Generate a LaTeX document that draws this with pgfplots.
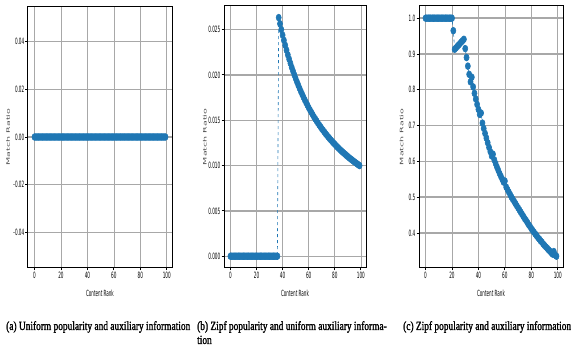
\documentclass[border=0pt]{standalone}
\usepackage{fontspec}
\setmainfont{Liberation Serif}
\newfontfamily\tickfont[FakeStretch=0.48]{DejaVu Sans}
\newfontfamily\ylabfont{DejaVu Sans}
\newfontfamily\capfont[FakeStretch=0.75,FakeBold=1.5]{Liberation Serif}
\usepackage{pgfplots}
\pgfplotsset{compat=1.18}
\definecolor{mplblue}{HTML}{1F77B4}
\definecolor{gridgray}{HTML}{A8A8A8}
\pgfplotsset{
  panel/.style={
    scale only axis,
    width=144pt, height=262pt,
    anchor=south west,
    xmin=-4.95, xmax=103.95,
    xtick={0,20,40,60,80,100},
    grid=major,
    major x grid style={gridgray, line width=0.7pt},
    major y grid style={gridgray, line width=1.4pt},
    axis line style={black, line width=1pt},
    tick align=outside,
    major tick length=2.5pt,
    tick style={black, line width=0.8pt},
    xtick pos=bottom, ytick pos=left,
    /pgf/number format/assume math mode=true,
    ticklabel style={font=\tickfont\fontsize{8.7}{10}\selectfont, inner sep=1pt},
    xlabel={\tickfont\fontsize{8.5}{9}\selectfont Content Rank},
    ylabel={\scalebox{1}[0.5]{\ylabfont\fontsize{9.5}{10}\selectfont Match Ratio}},
    xlabel style={at={(axis description cs:0.5,-0.095)}, anchor=center, inner sep=0pt},
    ylabel style={anchor=center, inner sep=0pt, text=black!70},
    scaled y ticks=false,
    clip=false,
  },
  ser/.style={mplblue, dashed, line width=0.6pt, mark=*, mark size=3.4pt,
    mark options={solid, fill=mplblue, draw=mplblue, xscale=0.75}},
}
\begin{document}
\begin{tikzpicture}
\path[use as bounding box] (0,0) rectangle (571pt,356pt);
% (a)
\begin{axis}[panel, at={(28pt,88pt)},
  ymin=-0.055, ymax=0.055,
  ytick={-0.04,-0.02,0,0.02,0.04},
  yticklabel style={/pgf/number format/fixed, /pgf/number format/fixed zerofill, /pgf/number format/precision=2},
  ylabel style={at={(axis description cs:-0.139,0.5)}}]
\addplot[ser] coordinates {
(0,0)(1,0)(2,0)(3,0)(4,0)(5,0)(6,0)(7,0)(8,0)(9,0)
(10,0)(11,0)(12,0)(13,0)(14,0)(15,0)(16,0)(17,0)(18,0)(19,0)
(20,0)(21,0)(22,0)(23,0)(24,0)(25,0)(26,0)(27,0)(28,0)(29,0)
(30,0)(31,0)(32,0)(33,0)(34,0)(35,0)(36,0)(37,0)(38,0)(39,0)
(40,0)(41,0)(42,0)(43,0)(44,0)(45,0)(46,0)(47,0)(48,0)(49,0)
(50,0)(51,0)(52,0)(53,0)(54,0)(55,0)(56,0)(57,0)(58,0)(59,0)
(60,0)(61,0)(62,0)(63,0)(64,0)(65,0)(66,0)(67,0)(68,0)(69,0)
(70,0)(71,0)(72,0)(73,0)(74,0)(75,0)(76,0)(77,0)(78,0)(79,0)
(80,0)(81,0)(82,0)(83,0)(84,0)(85,0)(86,0)(87,0)(88,0)(89,0)
(90,0)(91,0)(92,0)(93,0)(94,0)(95,0)(96,0)(97,0)(98,0)(99,0)
};
\end{axis}
% (b)
\begin{axis}[panel, at={(224pt,88pt)}, width=142pt,
  ymin=-0.0013, ymax=0.0276,
  ytick={0,0.005,0.01,0.015,0.02,0.025},
  yticklabel style={/pgf/number format/fixed, /pgf/number format/fixed zerofill, /pgf/number format/precision=3},
  ylabel style={at={(axis description cs:-0.134,0.5)}}]
\addplot[ser] coordinates {
(0,0)(1,0)(2,0)(3,0)(4,0)(5,0)(6,0)(7,0)(8,0)(9,0)
(10,0)(11,0)(12,0)(13,0)(14,0)(15,0)(16,0)(17,0)(18,0)(19,0)
(20,0)(21,0)(22,0)(23,0)(24,0)(25,0)(26,0)(27,0)(28,0)(29,0)
(30,0)(31,0)(32,0)(33,0)(34,0)(35,0)(36,0)
(37,0.02632)(38,0.02564)(39,0.02500)(40,0.02439)(41,0.02381)(42,0.02326)
(43,0.02273)(44,0.02222)(45,0.02174)(46,0.02128)(47,0.02083)(48,0.02041)
(49,0.02000)(50,0.01961)(51,0.01923)(52,0.01887)(53,0.01852)(54,0.01818)
(55,0.01786)(56,0.01754)(57,0.01724)(58,0.01695)(59,0.01667)(60,0.01639)
(61,0.01613)(62,0.01587)(63,0.01563)(64,0.01538)(65,0.01515)(66,0.01493)
(67,0.01471)(68,0.01449)(69,0.01429)(70,0.01408)(71,0.01389)(72,0.01370)
(73,0.01351)(74,0.01333)(75,0.01316)(76,0.01299)(77,0.01282)(78,0.01266)
(79,0.01250)(80,0.01235)(81,0.01220)(82,0.01205)(83,0.01190)(84,0.01176)
(85,0.01163)(86,0.01149)(87,0.01136)(88,0.01124)(89,0.01111)(90,0.01099)
(91,0.01087)(92,0.01075)(93,0.01064)(94,0.01053)(95,0.01042)(96,0.01031)
(97,0.01020)(98,0.01010)(99,0.01000)
};
\end{axis}
% (c)
\begin{axis}[panel, at={(419pt,88pt)},
  ymin=0.302, ymax=1.034,
  ytick={0.4,0.5,0.6,0.7,0.8,0.9,1.0},
  yticklabel style={/pgf/number format/fixed, /pgf/number format/fixed zerofill, /pgf/number format/precision=1},
  ylabel style={at={(axis description cs:-0.12,0.5)}}]
\addplot[ser] coordinates {
(0,1)(1,1)(2,1)(3,1)(4,1)(5,1)(6,1)(7,1)(8,1)(9,1)
(10,1)(11,1)(12,1)(13,1)(14,1)(15,1)(16,1)(17,1)(18,1)(19,1)(20,1)
(21,0.965)(22,0.913)(23,0.917)(24,0.921)(25,0.925)(26,0.929)(27,0.933)(28,0.937)(29,0.941)
(30,0.915)(31,0.890)(32,0.866)(33,0.843)(34,0.822)(35,0.835)(36,0.808)(37,0.790)(38,0.774)(39,0.759)
(40,0.745)(41,0.731)(42,0.735)(43,0.707)(44,0.692)(45,0.678)(46,0.665)(47,0.652)(48,0.639)(49,0.627)
(50,0.615)(51,0.620)(52,0.604)(53,0.594)(54,0.584)(55,0.575)(56,0.566)(57,0.558)(58,0.550)(59,0.542)
(60,0.545)(61,0.528)(62,0.521)(63,0.514)(64,0.507)(65,0.500)(66,0.494)(67,0.488)(68,0.482)(69,0.476)
(70,0.470)(71,0.464)(72,0.458)(73,0.452)(74,0.446)(75,0.440)(76,0.435)(77,0.429)(78,0.423)(79,0.418)
(80,0.412)(81,0.407)(82,0.402)(83,0.397)(84,0.392)(85,0.387)(86,0.383)(87,0.378)(88,0.374)(89,0.369)
(90,0.365)(91,0.361)(92,0.357)(93,0.353)(94,0.349)(95,0.345)(96,0.341)(97,0.348)(98,0.338)(99,0.335)
};
\end{axis}
% captions
\node[anchor=base west, inner sep=0pt] at (6pt,26pt) {\capfont\fontsize{12.5}{14}\selectfont (a) Uniform popularity and auxiliary information};
\node[anchor=base west, inner sep=0pt] at (197pt,26pt) {\capfont\fontsize{12.5}{14}\selectfont (b) Zipf popularity and uniform auxiliary informa-};
\node[anchor=base west, inner sep=0pt] at (197pt,12pt) {\capfont\fontsize{12.5}{14}\selectfont tion};
\node[anchor=base west, inner sep=0pt] at (403pt,26pt) {\capfont\fontsize{12.5}{14}\selectfont (c) Zipf popularity and auxiliary information};
\end{tikzpicture}
\end{document}
